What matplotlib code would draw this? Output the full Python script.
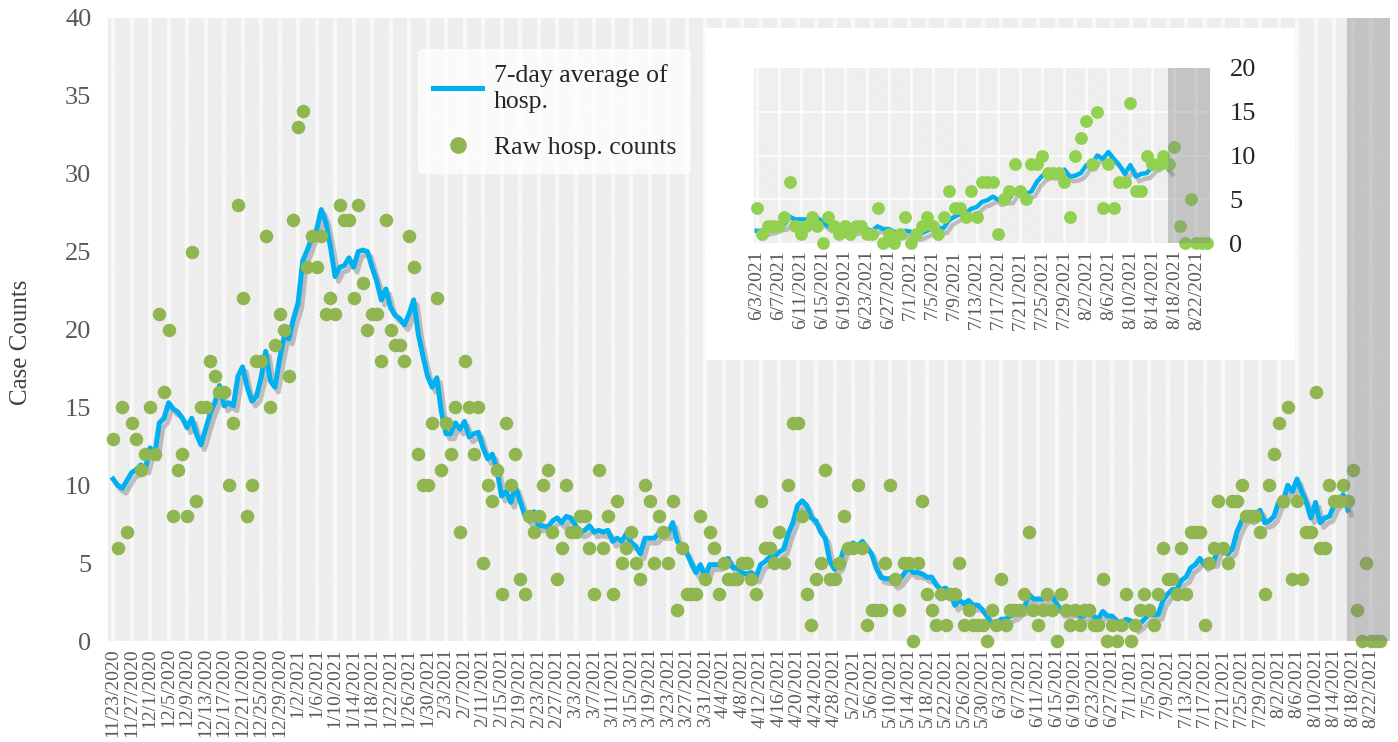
import numpy as np
import pandas as pd
import matplotlib
matplotlib.use('Agg')
import matplotlib.pyplot as plt
import matplotlib.patheffects as pe
from matplotlib.patches import Rectangle
from matplotlib.lines import Line2D

# ---------------- data ----------------
start_date = '2020-11-23'
raw_counts = [
    13, 6, 15, 7, 14, 13, 11, 12, 15, 12,
    21, 16, 20, 8, 11, 12, 8, 25, 9, 15,
    15, 18, 17, 16, 16, 10, 14, 28, 22, 8,
    10, 18, 18, 26, 15, 19, 21, 20, 17, 27,
    33, 34, 24, 26, 24, 26, 21, 22, 21, 28,
    27, 27, 22, 28, 23, 20, 21, 21, 18, 27,
    20, 19, 19, 18, 26, 24, 12, 10, 10, 14,
    22, 11, 14, 12, 15, 7, 18, 15, 12, 15,
    5, 10, 9, 11, 3, 14, 10, 12, 4, 3,
    8, 7, 8, 10, 11, 7, 4, 6, 10, 7,
    7, 8, 8, 6, 3, 11, 6, 8, 3, 9,
    5, 6, 7, 5, 4, 10, 9, 5, 8, 7,
    5, 9, 2, 6, 3, 3, 3, 8, 4, 7,
    6, 3, 5, 4, 4, 4, 5, 5, 4, 3,
    9, 6, 6, 5, 7, 5, 10, 14, 14, 8,
    3, 1, 4, 5, 11, 4, 4, 5, 8, 6,
    6, 10, 6, 1, 2, 2, 2, 5, 10, 4,
    2, 5, 5, 0, 5, 9, 3, 2, 1, 3,
    1, 3, 3, 5, 1, 2, 1, 1, 1, 0,
    2, 1, 4, 1, 2, 2, 2, 3, 7, 2,
    1, 2, 3, 2, 0, 3, 2, 1, 2, 1,
    2, 2, 1, 1, 4, 0, 1, 0, 1, 3,
    0, 1, 2, 3, 2, 1, 3, 6, 4, 4,
    3, 6, 3, 7, 7, 7, 1, 5, 6, 9,
    6, 5, 9, 9, 10, 8, 8, 8, 7, 3,
    10, 12, 14, 9, 15, 4, 9, 4, 7, 7,
    16, 6, 6, 10, 9, 9, 10, 9, 11, 2,
    0, 5, 0, 0, 0,
]
avg_7day = [
    10.4, 10.0, 9.8, 10.3, 10.8, 11.0, 11.3, 11.1, 12.4, 12.0,
    14.0, 14.3, 15.3, 14.9, 14.7, 14.3, 13.7, 14.3, 13.3, 12.6,
    13.6, 14.6, 15.3, 16.4, 15.1, 15.3, 15.1, 17.0, 17.6, 16.3,
    15.4, 15.7, 16.9, 18.6, 16.7, 16.3, 18.1, 19.6, 19.4, 20.7,
    21.7, 24.4, 25.1, 25.9, 26.4, 27.7, 26.9, 25.3, 23.4, 24.0,
    24.1, 24.6, 24.0, 25.0, 25.1, 25.0, 24.0, 23.1, 21.9, 22.6,
    21.4, 20.9, 20.7, 20.3, 21.0, 21.9, 19.7, 18.3, 17.0, 16.3,
    16.9, 14.7, 13.3, 13.3, 14.0, 13.6, 14.1, 13.1, 13.3, 13.4,
    12.4, 11.7, 12.0, 11.0, 9.3, 9.6, 8.9, 9.9, 9.0, 8.1,
    7.7, 8.3, 7.4, 7.4, 7.3, 7.7, 7.9, 7.6, 8.0, 7.9,
    7.4, 7.0, 7.1, 7.4, 7.0, 7.1, 7.0, 7.1, 6.4, 6.6,
    6.4, 6.9, 6.3, 6.1, 5.6, 6.6, 6.6, 6.6, 6.9, 6.9,
    6.9, 7.6, 6.4, 6.0, 5.7, 5.0, 4.4, 4.9, 4.1, 4.9,
    4.9, 4.9, 5.1, 5.3, 4.7, 4.7, 4.4, 4.3, 4.4, 4.1,
    4.9, 5.1, 5.4, 5.4, 5.7, 5.9, 6.9, 7.6, 8.7, 9.0,
    8.7, 7.9, 7.7, 7.0, 6.6, 5.1, 4.6, 4.9, 5.9, 6.1,
    6.3, 6.1, 6.4, 6.0, 5.6, 4.7, 4.1, 4.0, 4.0, 3.7,
    3.9, 4.3, 4.7, 4.4, 4.4, 4.3, 4.1, 4.1, 3.6, 3.3,
    3.4, 3.1, 2.3, 2.6, 2.4, 2.6, 2.3, 2.3, 2.0, 1.6,
    1.1, 1.1, 1.4, 1.4, 1.6, 1.7, 2.0, 2.1, 3.0, 2.7,
    2.7, 2.7, 2.9, 2.9, 2.4, 1.9, 1.9, 1.9, 1.9, 1.6,
    1.6, 1.9, 1.6, 1.4, 1.9, 1.6, 1.6, 1.3, 1.1, 1.4,
    1.3, 0.9, 1.1, 1.4, 1.7, 1.7, 1.7, 2.6, 3.0, 3.3,
    3.3, 3.9, 4.1, 4.7, 4.9, 5.3, 4.9, 5.1, 5.1, 6.0,
    5.9, 5.6, 5.9, 7.0, 7.7, 8.0, 7.9, 8.1, 8.4, 7.6,
    7.7, 8.0, 8.9, 9.0, 10.0, 9.6, 10.4, 9.6, 8.9, 7.9,
    8.9, 7.6, 7.9, 8.0, 8.7, 9.0, 9.4, 8.4,
]
y_ticks_main = [0, 5, 10, 15, 20, 25, 30, 35, 40]
y_ticks_inset = [0, 5, 10, 15, 20]
inset_first_day = '2021-06-03'
shaded_from_day = 266.8
legend_labels = ['7-day average of\nhosp.', 'Raw hosp. counts']

# ---------------- derived categories ----------------
dates = pd.date_range(start_date, periods=len(raw_counts), freq='D')
day_idx = np.arange(len(raw_counts))
avg_idx = day_idx[:len(avg_7day)]
tick_days = day_idx[::4]
tick_labels = [f"{d.month}/{d.day}/{d.year}" for d in dates[::4]]
inset_start = int((pd.Timestamp(inset_first_day) - pd.Timestamp(start_date)).days)
in_mask = day_idx >= inset_start
in_avg_mask = avg_idx >= inset_start
inset_tick_days = [d for d in tick_days if d >= inset_start]
inset_tick_labels = [l for d, l in zip(tick_days, tick_labels) if d >= inset_start]

# ---------------- style ----------------
plt.rcParams['font.family'] = ['Liberation Serif', 'DejaVu Serif']
plt.rcParams['hatch.linewidth'] = 0.6
LINE_C = '#00B0F0'
DOT_C = '#8FB650'
DOT_C_IN = '#92D050'
TXT_C = '#595959'
HATCH_C = '#dadada'
HATCH = '\\' * 13

W, H = 1398, 742
fig = plt.figure(figsize=(W / 100, H / 100), dpi=100)

def fx(px):
    return px / W

def fy(py):
    return 1 - py / H

# ---------------- main axes ----------------
ax = fig.add_axes([fx(108), fy(641), fx(1390) - fx(108), fy(18) - fy(641)], zorder=0)
ax.set_xlim(-1.1, 276.1)
ax.set_ylim(0, 40)
ax.add_patch(Rectangle((0, 0), 1, 1, transform=ax.transAxes, facecolor='white',
                       edgecolor=HATCH_C, hatch=HATCH, lw=0, zorder=0))
for t in tick_days:
    ax.axvline(t, color='white', lw=3, alpha=0.6, zorder=0.5)
ax.plot(avg_idx, avg_7day, color=LINE_C, lw=3.6, zorder=3, solid_joinstyle='round',
        path_effects=[pe.SimpleLineShadow(offset=(2.5, -3.5), shadow_color='#707070', alpha=0.4),
                      pe.Normal()])
ax.scatter(day_idx, raw_counts, s=95, color=DOT_C, lw=0, zorder=4, clip_on=False)
ax.axvspan(shaded_from_day, 276.1, color='#808080', alpha=0.38, lw=0, zorder=5)
for s in ax.spines.values():
    s.set_visible(False)
ax.set_xticks(tick_days)
ax.set_xticklabels(tick_labels, rotation=90, fontsize=14, color=TXT_C)
ax.set_yticks(y_ticks_main)
ax.set_yticklabels([str(v) for v in y_ticks_main], fontsize=19, color=TXT_C)
ax.tick_params(axis='both', length=0)
ax.tick_params(axis='x', pad=5)
ax.tick_params(axis='y', pad=12)
ax.set_ylabel('Case Counts', fontsize=18, color='#404040')
ax.yaxis.set_label_coords((32 - 108) / (1390 - 108), 0.48)

# legend
handles = [Line2D([], [], color=LINE_C, lw=3.6),
           Line2D([], [], marker='o', ls='', color=DOT_C, markersize=11)]
leg = fig.legend(handles, legend_labels, loc='upper left', bbox_to_anchor=(fx(405), fy(36)),
                 fontsize=18.5, frameon=True, handlelength=1.9, handletextpad=0.45,
                 labelspacing=0.9, borderpad=0.6, labelcolor='#262626')
leg.get_frame().set_facecolor('white')
leg.get_frame().set_alpha(0.75)
leg.get_frame().set_edgecolor('none')

# ---------------- inset ----------------
fig.add_artist(Rectangle((fx(705), fy(360)), fx(1295) - fx(705), fy(28) - fy(360),
                         transform=fig.transFigure, facecolor='white', edgecolor='none', zorder=1))
axin = fig.add_axes([fx(754), fy(243), fx(1210) - fx(754), fy(68) - fy(243)], zorder=2)
axin.set_xlim(191.5, 274.5)
axin.set_ylim(0, 20)
axin.add_patch(Rectangle((0, 0), 1, 1, transform=axin.transAxes, facecolor='white',
                         edgecolor='#dcdcdc', hatch=HATCH, lw=0, zorder=0))
for t in inset_tick_days:
    axin.axvline(t, color='white', lw=2, alpha=0.7, zorder=0.5)
for v in y_ticks_inset[1:-1]:
    axin.axhline(v, color='white', lw=1.5, alpha=0.7, zorder=0.5)
axin.plot(avg_idx[in_avg_mask], np.array(avg_7day)[in_avg_mask], color=LINE_C, lw=3.2, zorder=3,
          solid_joinstyle='round',
          path_effects=[pe.SimpleLineShadow(offset=(2.5, -3.5), shadow_color='#707070', alpha=0.4),
                        pe.Normal()])
axin.scatter(day_idx[in_mask], np.array(raw_counts)[in_mask], s=85, color=DOT_C_IN, lw=0,
             zorder=4, clip_on=False)
axin.axvspan(shaded_from_day, 274.5, color='#808080', alpha=0.38, lw=0, zorder=5)
for s in axin.spines.values():
    s.set_visible(False)
axin.yaxis.tick_right()
axin.set_yticks(y_ticks_inset)
axin.set_yticklabels([str(v) for v in y_ticks_inset], fontsize=19, color='#262626')
axin.set_xticks(inset_tick_days)
axin.set_xticklabels(inset_tick_labels, rotation=90, fontsize=14, color=TXT_C)
axin.tick_params(axis='both', length=0)
axin.tick_params(axis='y', pad=14)
axin.tick_params(axis='x', pad=5)

fig.savefig('out.png', dpi=100)
